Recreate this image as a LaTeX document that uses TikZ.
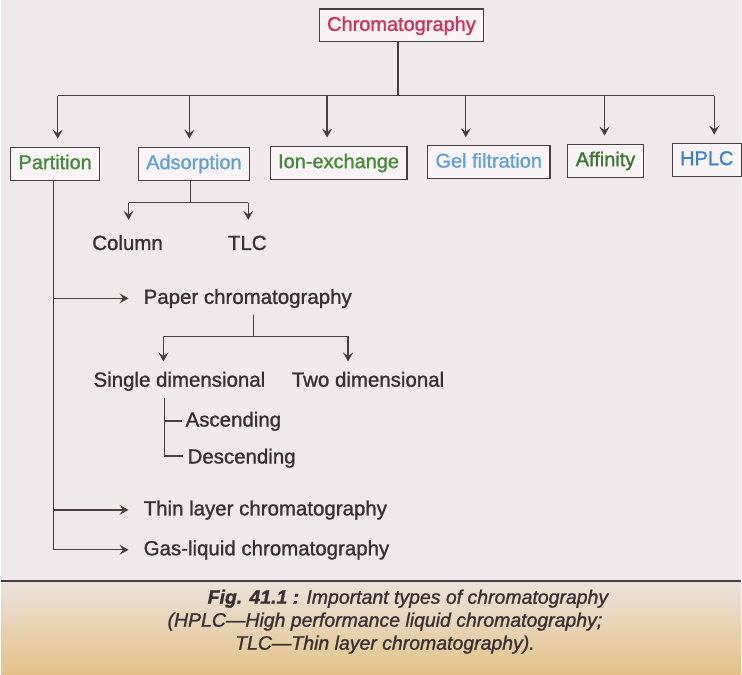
\documentclass[tikz,border=0pt]{standalone}
\usepackage{fontspec}
\setmainfont{Liberation Sans}
\newfontfamily\chartfont{Liberation Sans}[FakeBold=1.2]
\usetikzlibrary{arrows.meta}
\definecolor{paperBg}{RGB}{240,233,235}
\definecolor{inkGray}{RGB}{72,62,64}
\definecolor{textDark}{RGB}{58,48,52}
\definecolor{titleRed}{RGB}{212,46,90}
\definecolor{typeGreen}{RGB}{68,138,58}
\definecolor{typeBlue}{RGB}{96,162,212}
\definecolor{hplcBlue}{RGB}{62,130,200}
\definecolor{capTop}{RGB}{236,226,220}
\definecolor{capBot}{RGB}{226,194,136}

\tikzset{
  typebox/.style={draw=inkGray, line width=1.1pt, fill=paperBg!50!white,
    minimum height=33pt, inner xsep=8pt, text height=15pt, text depth=4pt,
    font=\chartfont\fontsize{20}{24}\selectfont},
  itemtext/.style={inner sep=0pt, text=textDark, text height=15pt, text depth=4pt,
    font=\chartfont\fontsize{20.5}{24}\selectfont},
  captext/.style={inner sep=0pt, text=textDark, font=\chartfont\fontsize{19.5}{23}\selectfont\itshape},
  link/.style={draw=inkGray, line width=1.3pt},
  arr/.style={link, -{Stealth[length=9pt, width=10pt, inset=3.5pt]}}
}

\begin{document}
\begin{tikzpicture}[x=1pt, y=1pt]
  % Page and caption band
  \fill[paperBg] (0,0) rectangle (742,-676);
  \shade[top color=capTop, bottom color=capBot] (0,-582) rectangle (742,-676);
  \draw[inkGray, line width=1.6pt] (0,-582) -- (742,-582);
  \useasboundingbox (0,0) rectangle (742,-676);

  % Root box
  \node[typebox, text=titleRed] (chrom) at (401.5,-25.5) {Chromatography};

  % Types of chromatography
  \node[typebox, text=typeGreen] (part) at (54.5,-164) {Partition};
  \node[typebox, text=typeBlue] (ads) at (193.5,-164) {Adsorption};
  \node[typebox, text=typeGreen] (ion) at (338.5,-163) {Ion-exchange};
  \node[typebox, text=typeBlue] (gel) at (489,-162.5) {Gel filtration};
  \node[typebox, text=typeGreen!85!black] (aff) at (606,-161) {Affinity};
  \node[typebox, text=hplcBlue] (hplc) at (707.5,-160) {HPLC};

  % Main branch
  \coordinate (hub) at (398,-96);
  \coordinate (hubL) at (57,-96);
  \coordinate (hubR) at (715,-96);
  \draw[link] (hub |- chrom.south) -- (hub);
  \draw[link] (hubL) -- (hubR);
  \foreach \ax/\nd in {57/part, 189/ads, 327/ion, 466/gel, 605/aff, 715/hplc}{
    \coordinate (top) at (\ax,-96);
    \draw[arr, shorten >=8pt] (top) -- (top |- \nd.north);
  }

  % Adsorption: column and TLC
  \node[itemtext] (col) at (127,-245) {Column};
  \node[itemtext] (tlc) at (247,-245) {TLC};
  \coordinate (adsJ) at (190,-203);
  \coordinate (colJ) at (128,-203);
  \coordinate (tlcJ) at (248,-203);
  \draw[link] (adsJ |- ads.south) -- (adsJ);
  \draw[link] (colJ) -- (tlcJ);
  \draw[arr, shorten >=15pt] (colJ) -- (colJ |- col.north);
  \draw[arr, shorten >=15pt] (tlcJ) -- (tlcJ |- tlc.north);

  % Partition: paper, thin layer, gas-liquid
  \node[itemtext, anchor=west] (paper) at (143,-299) {Paper chromatography};
  \node[itemtext, anchor=west] (thin) at (143,-511) {Thin layer chromatography};
  \node[itemtext, anchor=west] (gas) at (143,-551) {Gas-liquid chromatography};
  \coordinate (partEnd) at (53,-551);
  \draw[link] (partEnd |- part.south) -- (partEnd);
  \draw[arr, shorten >=15pt] (partEnd |- paper.west) -- (paper.west);
  \draw[arr, shorten >=15pt] (partEnd |- thin.west) -- (thin.west);
  \draw[arr, shorten >=15pt] (partEnd) -- (gas.west);

  % Paper chromatography: single and two dimensional
  \node[itemtext] (single) at (179,-382) {Single dimensional};
  \node[itemtext] (two) at (368,-382) {Two dimensional};
  \coordinate (papJ) at (253,-337);
  \coordinate (sglJ) at (163,-337);
  \coordinate (twoJ) at (348,-337);
  \draw[link, shorten <=7pt] (papJ |- paper.south) -- (papJ);
  \draw[link] (sglJ) -- (twoJ);
  \draw[arr, shorten >=10pt] (sglJ) -- (sglJ |- single.north);
  \draw[arr, shorten >=10pt] (twoJ) -- (twoJ |- two.north);

  % Single dimensional: ascending and descending
  \node[itemtext, anchor=west] (asc) at (185,-422) {Ascending};
  \node[itemtext, anchor=west] (desc) at (187,-459) {Descending};
  \coordinate (sglEnd) at (164,-457);
  \draw[link, shorten <=7pt] (sglEnd |- single.south) -- (sglEnd) -- ([xshift=-4pt]sglEnd -| desc.west);
  \draw[link] (sglEnd |- asc.west) -- ([xshift=-3pt]asc.west);

  % Caption
  \node[captext] (cap1) at (408,-600) {\textbf{Fig. 41.1 :} Important types of chromatography};
  \node[captext] (cap2) at (385,-623) {(HPLC—High performance liquid chromatography;};
  \node[captext] (cap3) at (385,-646) {TLC—Thin layer chromatography).};
\end{tikzpicture}
\end{document}
